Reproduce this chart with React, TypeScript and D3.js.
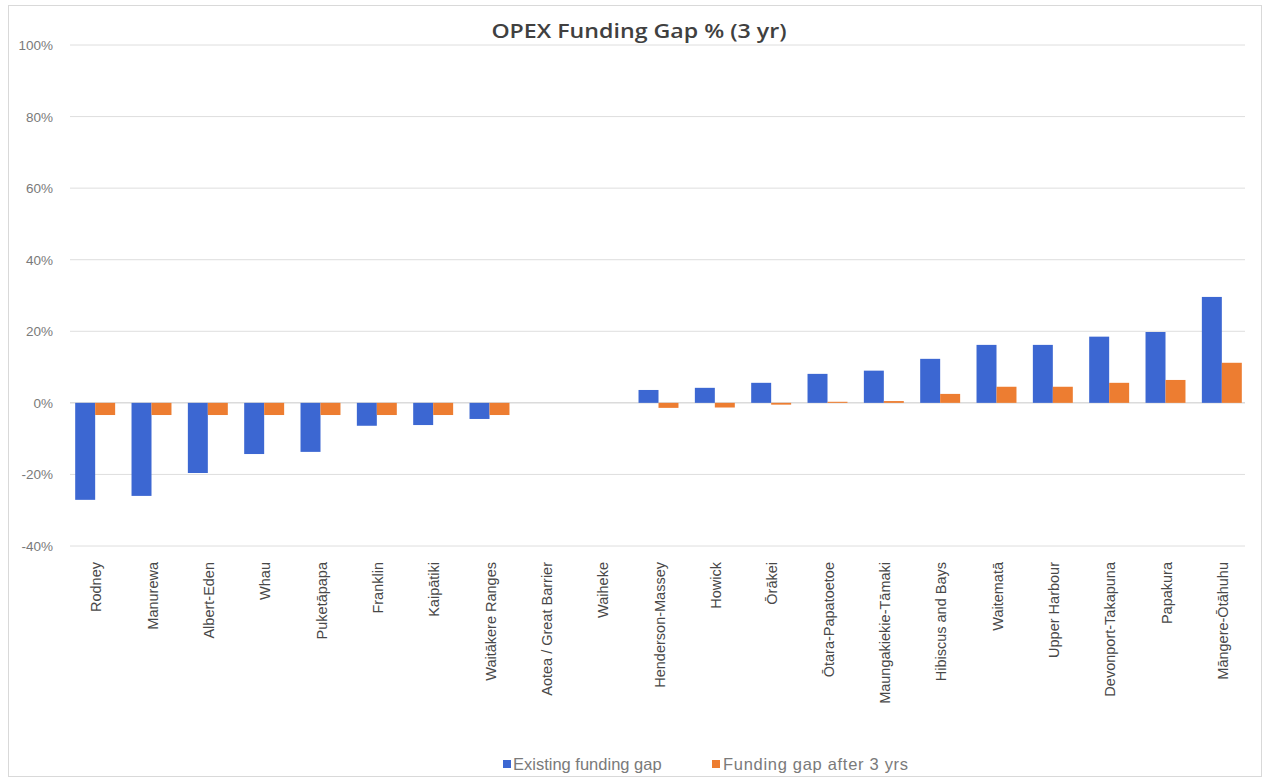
import React from "react";
import * as d3 from "d3";

const categories = [
  "Rodney", "Manurewa", "Albert-Eden", "Whau", "Puketāpapa", "Franklin", "Kaipātiki",
  "Waitākere Ranges", "Aotea / Great Barrier", "Waiheke", "Henderson-Massey", "Howick",
  "Ōrākei", "Ōtara-Papatoetoe", "Maungakiekie-Tāmaki", "Hibiscus and Bays", "Waitematā",
  "Upper Harbour", "Devonport-Takapuna", "Papakura", "Māngere-Ōtāhuhu",
];
const existingGap = [
  -27.1, -26.0, -19.6, -14.3, -13.7, -6.4, -6.2, -4.5, 0, 0, 3.6, 4.2, 5.6, 8.1, 9.0,
  12.3, 16.2, 16.2, 18.5, 19.8, 29.6,
];
const gapAfter3 = [
  -3.4, -3.4, -3.4, -3.4, -3.4, -3.4, -3.4, -3.4, 0, 0, -1.4, -1.3, -0.5, 0.3, 0.5,
  2.5, 4.5, 4.5, 5.6, 6.4, 11.2,
];
const yTicks = [-40, -20, 0, 20, 40, 60, 80, 100];
const seriesNames = ["Existing funding gap", "Funding gap after 3 yrs"];
const title = "OPEX Funding Gap % (3 yr)";

const W = 1265;
const H = 780;
const BLUE = "#3c67d2";
const ORANGE = "#ed7d31";

export default function App() {
  const left = 67, right = 1250, top = 45, bottom = 546;
  const x = d3.scaleBand<string>().domain(categories).range([left, right]).paddingInner(0).paddingOuter(0);
  const y = d3.scaleLinear().domain([-40, 100]).range([bottom, top]);
  const inner = d3.scaleBand<number>().domain([0, 1]).range([0, x.bandwidth()]).paddingInner(0).paddingOuter(0.41);
  const series = [existingGap, gapAfter3];
  const colors = [BLUE, ORANGE];
  const font = "'Liberation Sans', Arial, sans-serif";

  return (
    <svg width={W} height={H} style={{ position: "absolute", left: 0, top: 0, background: "#fff" }}>
      <rect x={8.5} y={5.5} width={1253} height={771} fill="#fff" stroke="#d9d9d9" />
      <text transform={`translate(639,38) scale(1.22,1)`} textAnchor="middle" fontFamily="'Open Sans', sans-serif" fontWeight={600} fontSize={19} fill="#404040">
        {title}
      </text>
      {yTicks.map((t) => (
        <g key={t}>
          <line x1={70} x2={1245} y1={y(t)} y2={y(t)} stroke={t === 0 ? "#c8c8c8" : "#dedede"} strokeWidth={1} />
          <text x={53} y={y(t) + 5} textAnchor="end" fontFamily={font} fontSize={13.5} fill="#7a7a7a">
            {t}%
          </text>
        </g>
      ))}
      {series.map((vals, si) =>
        vals.map((v, i) => {
          const bx = (x(categories[i]) ?? 0) + (inner(si) ?? 0);
          const y0 = y(Math.max(0, v));
          const h = Math.abs(y(v) - y(0));
          return <rect key={`${si}-${i}`} x={bx} y={y0} width={inner.bandwidth()} height={h} fill={colors[si]} />;
        })
      )}
      {categories.map((c) => {
        const cx = (x(c) ?? 0) + x.bandwidth() / 2;
        return (
          <text key={c} transform={`translate(${cx + 6},562) rotate(-90)`} textAnchor="end" fontFamily={font} fontSize={14.5} fill="#484848">
            {c}
          </text>
        );
      })}
      <g fontFamily={font} fontSize={16.5} fill="#7a7a7a">
        <rect x={503} y={760} width={8} height={8} fill={BLUE} />
        <text x={513} y={770}>{seriesNames[0]}</text>
        <rect x={712} y={760} width={8} height={8} fill={ORANGE} />
        <text x={723} y={770} textLength={185}>{seriesNames[1]}</text>
      </g>
    </svg>
  );
}
